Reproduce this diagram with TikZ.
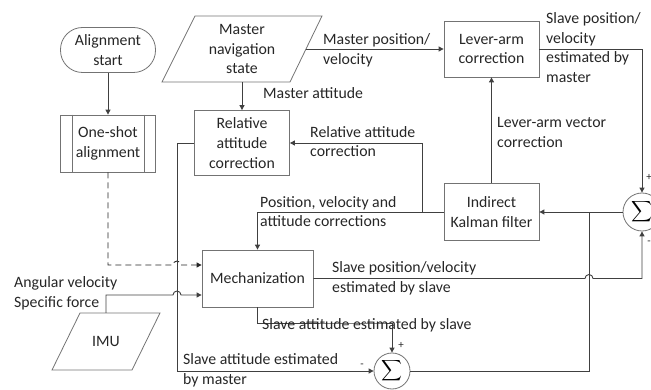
\documentclass[tikz,border=0pt]{standalone}
\usepackage{fontspec}
\setmainfont{Carlito}
\usetikzlibrary{arrows.meta}
\begin{document}
\begin{tikzpicture}[x=1pt,y=-1pt,
  font=\fontsize{15.8}{19.6}\selectfont,
  boxline/.style={draw=black!55, line width=0.8pt},
  box/.style={boxline, align=center, inner sep=0pt, text=black!85},
  shapetext/.style={align=center, inner sep=0pt, text=black!85},
  conn/.style={draw=black!75, line width=0.9pt},
  arr/.style={conn, -{Triangle[length=5pt,width=5pt]}},
  lbl/.style={anchor=west, align=left, inner sep=0pt, text=black!85},
  sgn/.style={inner sep=0pt, font=\fontsize{11}{12}\selectfont, text=black!85},
  sumnode/.style={circle, boxline, minimum size=38pt, inner sep=0pt}
]
\useasboundingbox (0,0) rectangle (651,390);

% nodes
\node[box, rounded corners=22pt, minimum width=95pt, minimum height=45pt] (start) at (108,50) {Alignment\\start};
\node[box, minimum width=95pt, minimum height=57pt] (oneshot) at (108,143.5) {One-shot\\alignment};
\draw[boxline] ([xshift=12pt]oneshot.north west) -- ([xshift=12pt]oneshot.south west)
               ([xshift=-12pt]oneshot.north east) -- ([xshift=-12pt]oneshot.south east);

\draw[boxline] (162,82) -- (195,16) -- (322,16) -- (290,82) -- cycle;
\node[shapetext, minimum width=127.5pt, minimum height=66pt] (master) at (242,49) {Master\\navigation\\state};

\draw[boxline] (52,370) -- (80,313) -- (160,313) -- (132,370) -- cycle;
\node[shapetext, minimum width=80pt, minimum height=57pt] (imu) at (106,341.5) {IMU};

\node[box, minimum width=95pt, minimum height=65pt] (rel) at (242,143) {Relative\\attitude\\correction};
\node[box, minimum width=95pt, minimum height=56pt] (lever) at (491.5,49) {Lever-arm\\correction};
\node[box, minimum width=95pt, minimum height=57pt] (kalman) at (491.5,212) {Indirect\\Kalman filter};
\node[box, minimum width=111pt, minimum height=57pt] (mech) at (257.5,278.5) {Mechanization};
\node[sumnode] (sig1) at (642,212) {\scalebox{1.45}{$\displaystyle\sum$}};
\node[sumnode, minimum size=36pt] (sig2) at (392,371) {\scalebox{1.45}{$\displaystyle\sum$}};

% connectors
\draw[arr] (start) -- (oneshot);
\draw[arr, dash pattern=on 6pt off 4pt, draw=black!85] (oneshot.south) |- (173,265) arc[start angle=180, end angle=0, radius=4pt] -- (mech.west |- {(0,265)});
\draw[arr] (imu.north) |- (173,295) arc[start angle=180, end angle=0, radius=4pt] -- (mech.west |- {(0,295)});
\draw[arr] (master.south) -- (rel.north);
\draw[arr] (master.east) -- (lever.west);
\draw[arr] (lever.east) -| (sig1.north);
\draw[arr] (kalman.north) -- (lever.south);
\draw[arr] (sig1.west) -- (kalman.east);
\coordinate (kj) at (422,212);
\draw[arr] (kalman.west) -- (kj) |- (rel.east);
\draw[arr] (kj) -| (mech.north);
\draw[arr] (mech.east) -- (585,278.5) arc[start angle=180, end angle=0, radius=4pt] -| (sig1.south);
\draw[arr] (rel.west) -- (177,143) |- (sig2.west);
\draw[arr] (mech.south) |- (380,323) -| (sig2.north);
\draw[conn] (sig2.east) -| (589,212);

% labels
\node[lbl] (lmpv) at (323,50.5) {Master position/\\velocity};
\node[lbl] (lma) at (263,93) {Master attitude};
\node[lbl] (lrac) at (310,141.5) {Relative attitude\\correction};
\node[lbl] (lspv) at (546,47.5) {Slave position/\\velocity\\estimated by\\master};
\node[lbl] (llav) at (497,132.5) {Lever-arm vector\\correction};
\node[lbl] (lpva) at (260,211.5) {Position, velocity and\\attitude corrections};
\node[lbl] (lsps) at (332,278.5) {Slave position/velocity\\estimated by slave};
\node[lbl] (lsas) at (262,325.5) {Slave attitude estimated by slave};
\node[lbl] (lsam) at (183,370.5) {Slave attitude estimated\\by master};
\node[lbl] (lav) at (14,293.5) {Angular velocity\\Specific force};

\node[sgn] (p1) at (649,177) {+};
\node[sgn] (m1) at (649,243) {-};
\node[sgn] (p2) at (401,345) {+};
\node[sgn] (m2) at (362,366) {-};
\end{tikzpicture}
\end{document}
